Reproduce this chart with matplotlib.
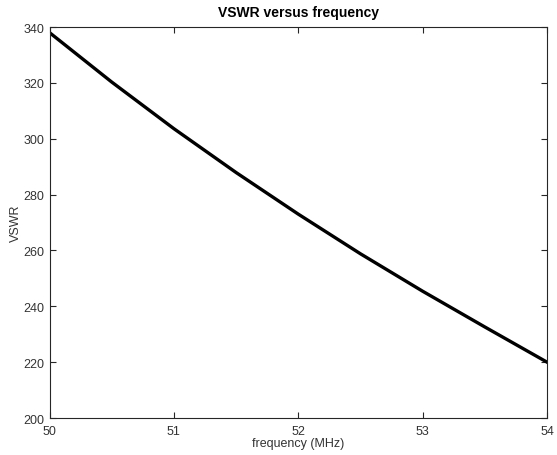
import matplotlib
matplotlib.use("Agg")
import matplotlib.pyplot as plt

freq_mhz = [50.0, 50.5, 51.0, 51.5, 52.0, 52.5, 53.0, 53.5, 54.0]
vswr = [338.0, 320.3, 303.6, 287.9, 273.0, 258.8, 245.4, 232.6, 220.0]
x_ticks = [50, 51, 52, 53, 54]
y_ticks = [200, 220, 240, 260, 280, 300, 320, 340]

plt.rcParams['font.family'] = ['Liberation Sans', 'DejaVu Sans']

fig = plt.figure(figsize=(5.57, 4.56), dpi=100)
left, right, top, bottom = 49.5, 547.0, 28.0, 419.0
ax = fig.add_axes([left / 557, (456 - bottom) / 456, (right - left) / 557, (bottom - top) / 456])
ax.plot(freq_mhz, vswr, color='black', linewidth=2.4)
ax.set_xlim(50, 54)
ax.set_ylim(200, 340)
ax.set_xticks(x_ticks)
ax.set_yticks(y_ticks)
ax.tick_params(direction='in', top=True, right=True, labelsize=9, length=4,
               width=0.8, color='#262626', labelcolor='#333333')
ax.tick_params(axis='x', pad=5)
ax.tick_params(axis='y', pad=4)
for s in ax.spines.values():
    s.set_color('#262626')
    s.set_linewidth(0.8)
ax.set_xlabel('frequency (MHz)', fontsize=9, color='#333333', labelpad=0)
ax.set_ylabel('VSWR', fontsize=9, color='#333333', labelpad=1)
ax.set_title('VSWR versus frequency', fontsize=10, fontweight='bold', pad=8)
fig.savefig('out.png', dpi=100)
